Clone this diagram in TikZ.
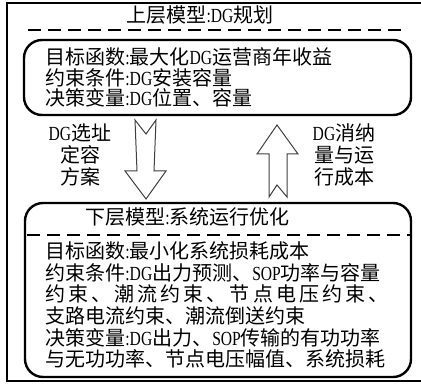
\documentclass[tikz,border=0pt]{standalone}
\usepackage{fontspec}
\setmainfont{Noto Sans CJK SC}
\newfontfamily\latfont[FakeStretch=0.78]{Liberation Serif}
\newcommand\en[1]{{\latfont #1}}

\begin{document}
\begin{tikzpicture}[%
    x=0.5pt,
    y=-0.5pt,
    frame/.style={%
      draw,
      line width=0.9pt
    },
    modelbox/.style={%
      draw,
      line width=1.2pt,
      rounded corners=9pt
    },
    split/.style={%
      draw,
      line width=1.2pt,
      dash pattern=on 6.5pt off 3.5pt
    },
    blockarrow/.style={%
      draw=black!75,
      line width=0.5pt,
      fill=white,
      line join=miter
    },
    heading/.style={%
      inner sep=0pt,
      font=\fontsize{10}{12}\selectfont
    },
    body/.style={%
      inner sep=0pt,
      anchor=west,
      align=left
    },
    flowlabel/.style={%
      inner sep=0pt,
      align=center,
      font=\fontsize{10}{11}\selectfont
    }
  ]
    \useasboundingbox (0,0) rectangle (421,384);
    \draw[frame] (424,3) -- (7,3) -- (7,381) -- (424,381);

    \draw[modelbox] (24,40) rectangle (411,115);
    \draw[modelbox] (25,203) rectangle (411,377);
    \draw[split] (28,30) -- (405,30);
    \draw[split] (27,235) -- (410,235);

    \node[heading] (upper) at (200,15)                  {上层模型\en{:DG}规划};
    \node[heading, anchor=west] (lower) at (85,217)     {下层模型\en{:}系统运行优化};

    \node[body, font=\fontsize{10}{10.25}\selectfont] (uppertext) at (45,77.5)
      {目标函数\en{:}最大化\en{DG}运营商年收益\\
       约束条件\en{:DG}安装容量\\
       决策变量\en{:DG}位置、容量};
    \node[body, font=\fontsize{10}{10.8}\selectfont] (lowertext) at (45,305)
      {目标函数\en{:}最小化系统损耗成本\\
       约束条件\en{:DG}出力预测、\en{SOP}功率与容量\\
       \makebox[171.5pt][s]{约\hfil 束\hfil 、\hfil 潮\hfil 流\hfil 约\hfil 束\hfil 、\hfil 节\hfil 点\hfil 电\hfil 压\hfil 约\hfil 束\hfil 、}\\
       支路电流约束、潮流倒送约束\\
       决策变量\en{:DG}出力、\en{SOP}传输的有功功率\\
       与无功功率、节点电压幅值、系统损耗};

    \node[flowlabel] (scheme) at (80,155)  {\en{DG}选址\\定容\\方案};
    \node[flowlabel] (cost)   at (344,155) {\en{DG}消纳\\量与运\\行成本};

    \draw[blockarrow] (135,120) -- (146,134) -- (156,120) -- (154,171) -- (166,171)
      -- (146,199) -- (125,171) -- (137,171) -- cycle;
    \draw[blockarrow] (277,125) -- (298,154) -- (287,154) -- (287,197) -- (277,185)
      -- (269,197) -- (269,154) -- (257,154) -- cycle;
  \end{tikzpicture}
\end{document}
